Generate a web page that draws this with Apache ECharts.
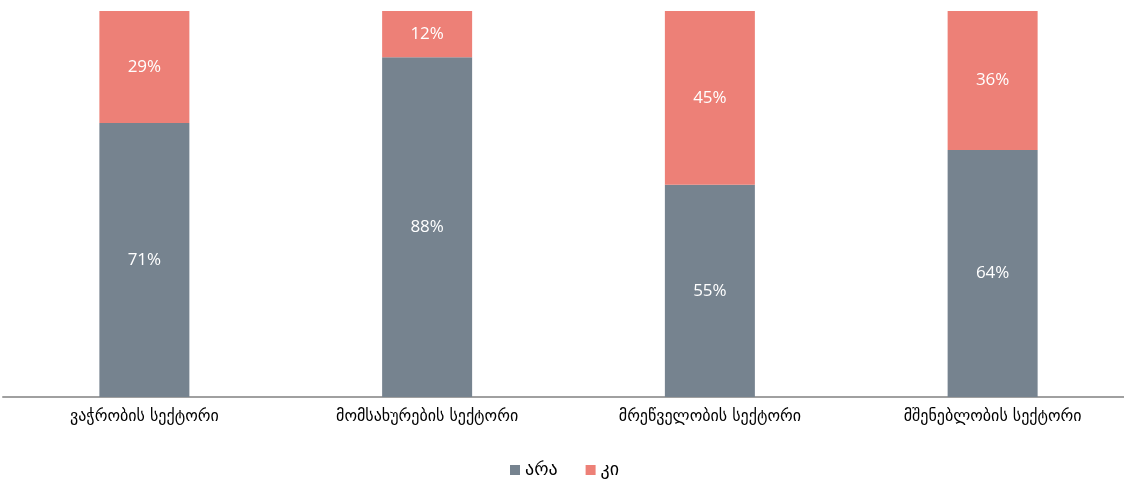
<!DOCTYPE html>
<html>
<head>
<meta charset="utf-8">
<script src="https://cdn.jsdelivr.net/npm/echarts@6/dist/echarts.min.js"></script>
<style>
  html, body { margin: 0; padding: 0; background: #fff; overflow: hidden; width: 1124px; height: 480px; }
  #chart { width: 1134px; height: 480px; }
</style>
</head>
<body>
<div id="chart"></div>
<script>
const categories = ['ვაჭრობის სექტორი', 'მომსახურების სექტორი', 'მრეწველობის სექტორი', 'მშენებლობის სექტორი'];
const araValues = [71, 88, 55, 64];
const kiValues = [29, 12, 45, 36];
const seriesNames = ['არა', 'კი'];

const chart = echarts.init(document.getElementById('chart'), null, { renderer: 'canvas' });

const labelStyle = {
  show: true,
  position: 'inside',
  color: '#fff',
  fontSize: 17,
  fontFamily: 'Open Sans',
  formatter: p => p.value + '%'
};

chart.setOption({
  textStyle: { fontFamily: 'DejaVu Sans' },
  grid: { left: 3, right: 0, top: 11, bottom: 83, containLabel: false },
  legend: {
    top: 456,
    left: 505,
    itemWidth: 10,
    itemHeight: 10,
    itemGap: 28,
    icon: 'rect',
    textStyle: { fontSize: 18, color: '#000', fontFamily: 'DejaVu Sans' },
    data: seriesNames
  },
  xAxis: {
    type: 'category',
    data: categories,
    axisTick: { show: false },
    axisLine: { lineStyle: { color: '#a0a0a0', width: 2 } },
    axisLabel: { color: '#000', fontSize: 16, margin: 12, fontFamily: 'DejaVu Sans' }
  },
  yAxis: {
    type: 'value',
    min: 0,
    max: 100,
    show: false,
    splitLine: { show: false }
  },
  series: [
    {
      name: seriesNames[0],
      type: 'bar',
      stack: 'total',
      barWidth: 90,
      data: araValues,
      itemStyle: { color: '#76838f' },
      label: labelStyle
    },
    {
      name: seriesNames[1],
      type: 'bar',
      stack: 'total',
      barWidth: 90,
      data: kiValues,
      itemStyle: { color: '#ed8077' },
      label: labelStyle
    }
  ]
});
</script>
</body>
</html>
